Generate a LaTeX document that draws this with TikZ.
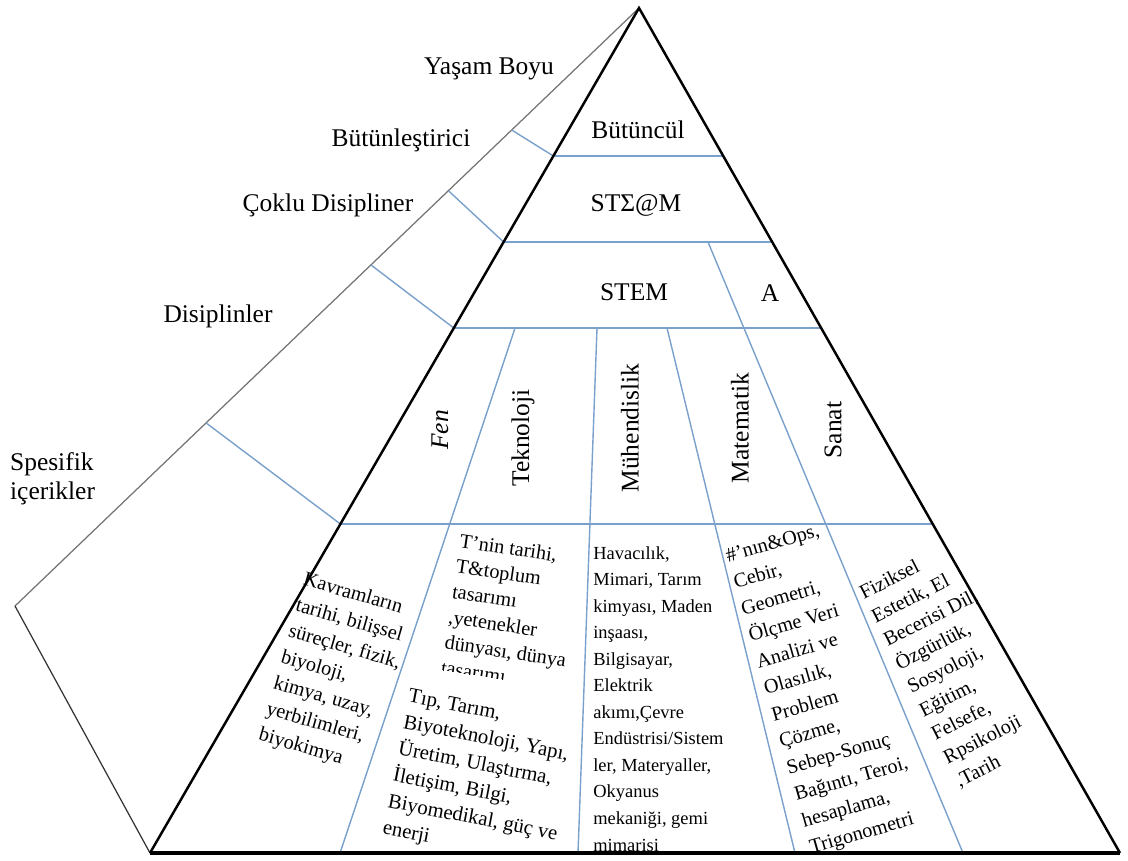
\documentclass[tikz,border=0pt]{standalone}
\usepackage{fontspec}
\setmainfont{Liberation Serif}
\usepackage{tikz}
\usetikzlibrary{calc}
\definecolor{divblue}{RGB}{122,160,204}
\tikzstyle{thickedge} = [draw, line width=1.4pt, line join=miter]
\tikzstyle{faceedge} = [draw, black!55, line width=0.7pt]
\tikzstyle{divider} = [draw, divblue, line width=0.8pt]
\tikzstyle{levellabel} = [font=\fontsize{14.5}{17}\selectfont, inner sep=1pt]
\tikzstyle{subjlabel} = [font=\fontsize{14.5}{17}\selectfont, rotate=90, inner sep=1pt]
\tikzstyle{contentblock} = [font=\fontsize{11.5}{15.3}\selectfont, align=left, anchor=north west, inner sep=0pt]

\begin{document}
\begin{tikzpicture}[x=0.02cm, y=-0.02cm]
\useasboundingbox (0,0) rectangle (1128,860);
% corners of the pyramid and of the side face
\coordinate (apex) at (639,8);
\coordinate (lb) at (150,853);
\coordinate (rb) at (1120,853);
\coordinate (far) at (15,606);
% level lines: left end, right end, point on the side face
\coordinate (l1) at (553.4,156); \coordinate (r1) at (723.2,156); \coordinate (f1) at (511.7,130);
\coordinate (l2) at (503.6,242); \coordinate (r2) at (772.2,242); \coordinate (f2) at (448.7,191);
\coordinate (l3) at (453.8,328); \coordinate (r3) at (821.1,328); \coordinate (f3) at (371.0,265);
\coordinate (l4) at (340.4,524); \coordinate (r4) at (932.7,524); \coordinate (f4) at (206.2,423);
% column lines
\coordinate (c1t) at (515,328); \coordinate (c1b) at (340,853);
\coordinate (c2t) at (597,328); \coordinate (c2b) at (578,853);
\coordinate (c3t) at (667,328); \coordinate (c3b) at (795,853);
\coordinate (c4t) at (708,242); \coordinate (c4b) at (963,853);

% side face
\path [faceedge] (apex) -- (far);
\path [draw, black!80, line width=0.7pt] (far) -- (lb);
\foreach \i in {1,...,4}
  \path [divider] (f\i) -- (l\i);
\foreach \i in {1,...,4}
  \path [divider] (l\i) -- (r\i);
\foreach \i in {1,...,4}
  \path [divider] (c\i t) -- (c\i b);

% level names on the side face
\node [levellabel] (yasam) at (489,69) {Yaşam Boyu};
\node [levellabel] (butunl) at (401,140) {Bütünleştirici};
\node [levellabel] (coklu) at (328,205) {Çoklu Disipliner};
\node [levellabel] (disip) at (218,316) {Disiplinler};
\node [levellabel, align=left, anchor=north west] (spesif) at (8,450) {Spesifik\\içerikler};

% levels inside the pyramid
\node [levellabel] (butuncul) at (638,130) {Bütüncül};
\node [levellabel] (steam) at (636,205) {STΣ@M};
\node [levellabel] (stem) at (634,292) {STEM};
\node [levellabel] (sanatA) at (770,293) {A};

% disciplines
\node [subjlabel, font=\fontsize{14.5}{17}\selectfont\itshape] (fen) at (440,430) {Fen};
\node [subjlabel] (tekno) at (523,438) {Teknoloji};
\node [subjlabel] (muhen) at (630,428) {Mühendislik};
\node [subjlabel] (matem) at (740,428) {Matematik};
\node [subjlabel] (sanat) at (833,430) {Sanat};

% specific contents
\begin{scope}
\clip (0,524) rectangle (1128,851);
\node [contentblock, rotate=-16] (fenc) at (306,571) {Kavramların\\tarihi, bilişsel\\süreçler, fizik,\\biyoloji,\\kimya, uzay,\\yerbilimleri,\\biyokimya};
\begin{scope}
\clip (430,524) -- (600,524) -- (600,694) -- (430,668) -- cycle;
\node [contentblock, rotate=-8.5, font=\fontsize{11.5}{14.6}\selectfont] (teknoc1) at (461,533) {T’nin tarihi,\\T\&toplum\\tasarımı\\,yetenekler\\dünyası, dünya\\tasarımı};
\end{scope}
\node [contentblock, rotate=-11, font=\fontsize{11.8}{15.3}\selectfont] (teknoc2) at (410,688) {Tıp, Tarım,\\Biyoteknoloji, Yapı,\\Üretim, Ulaştırma,\\İletişim, Bilgi,\\Biyomedikal, güç ve\\enerji};
\node [contentblock, font=\fontsize{10.5}{15.1}\selectfont] (muhenc) at (593,546) {Havacılık,\\Mimari, Tarım\\kimyası, Maden\\inşaası,\\Bilgisayar,\\Elektrik\\akımı,Çevre\\Endüstrisi/Sistem\\ler, Materyaller,\\Okyanus\\mekaniği, gemi\\mimarisi};
\node [contentblock, rotate=16, font=\fontsize{11.5}{15.7}\selectfont] (matemc) at (724,549) {\#’nın\&Ops,\\Cebir,\\Geometri,\\Ölçme Veri\\Analizi ve\\Olasılık,\\Problem\\Çözme,\\Sebep-Sonuç\\Bağıntı, Teroi,\\hesaplama,\\Trigonometri};
\node [contentblock, rotate=27, font=\fontsize{11.5}{15}\selectfont] (sanatc) at (857,587) {Fiziksel\\Estetik, El\\Becerisi Dil,\\Özgürlük,\\Sosyoloji,\\Eğitim,\\Felsefe,\\Rpsikoloji\\,Tarih};
\end{scope}

% outline of the pyramid
\path [thickedge] (lb) -- (apex) -- (rb);
\path [draw, line width=2pt] (lb) -- (rb);
\end{tikzpicture}
\end{document}
